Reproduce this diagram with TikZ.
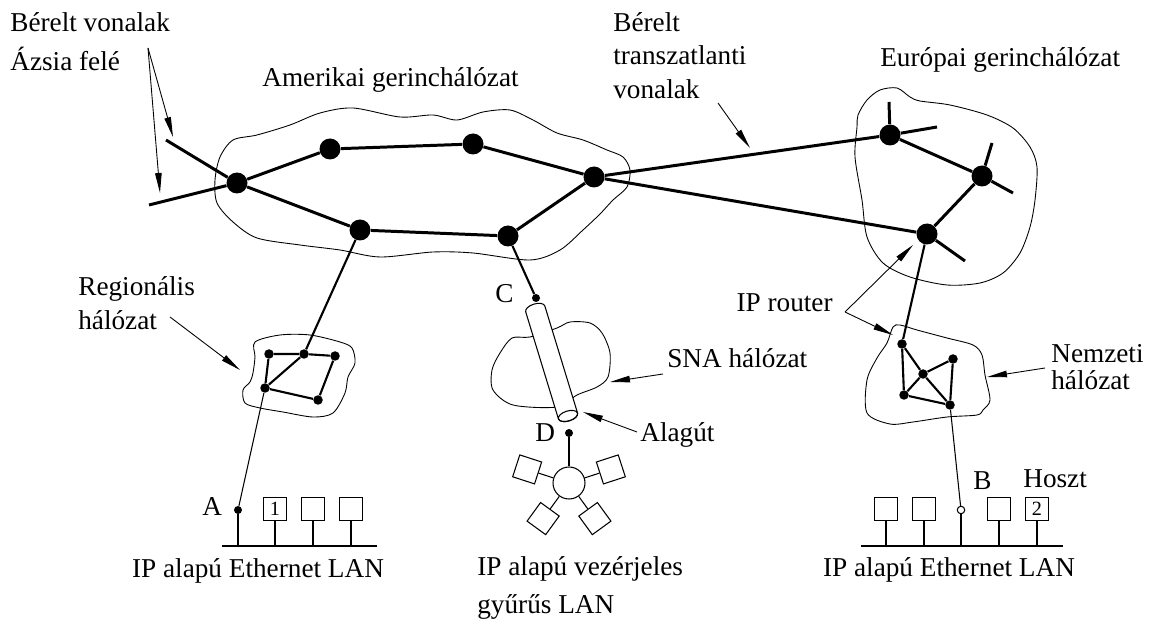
\documentclass[tikz,border=0pt]{standalone}
\usepackage{fontspec}
\setmainfont{Liberation Serif}
\usetikzlibrary{arrows.meta,calc}

\begin{document}
\begin{tikzpicture}[x=0.02cm,y=-0.02cm]
  \tikzset{
    txt/.style={font=\fontsize{15.5}{18}\selectfont,inner sep=0pt},
    bb/.style={circle,fill,inner sep=0pt,minimum size=.42cm},
    sm/.style={circle,fill,inner sep=0pt,minimum size=.19cm},
    pt/.style={circle,fill,inner sep=0pt,minimum size=.16cm},
    link/.style={line width=1.7pt},
    sub/.style={line width=1.2pt},
    thin/.style={line width=.6pt},
    area/.style={line width=.5pt},
    ptr/.style={line width=.5pt,-{Triangle[length=.4cm,width=.13cm]}},
    host/.style={draw,line width=.6pt,minimum size=.46cm,inner sep=0pt,font=\fontsize{11.5}{13}\selectfont}
  }
  \useasboundingbox (0,0) rectangle (1150,621);

  \draw[area] plot[smooth cycle] coordinates {(217,203) (215,180) (220,157) (233,140) (257,135)
    (290,125) (320,113) (353,108) (400,117) (433,115) (457,120) (483,112) (510,110) (533,120)
    (557,133) (583,140) (607,150) (623,157) (630,170) (627,187) (613,200) (600,214) (583,230)
    (560,250) (530,260) (473,253) (433,252) (380,257) (340,250) (300,245) (257,238) (233,222)};
  \draw[area] plot[smooth cycle] coordinates {(858,115) (867,100) (880,90) (897,88) (910,97)
    (920,101) (950,105) (987,115) (1013,128) (1030,147) (1037,167) (1035,200) (1030,227)
    (1020,253) (1003,273) (980,283) (947,285) (910,277) (883,263) (867,237) (862,200) (855,157) (857,127)};
  \draw[area] plot[smooth cycle] coordinates {(255,342) (280,335) (310,335) (340,342) (352,348)
    (355,363) (348,377) (345,393) (333,413) (313,417) (283,412) (260,408) (245,403) (243,390)
    (250,382) (253,373) (255,357)};
  \draw[area] plot[smooth cycle] coordinates {(893,327) (900,325) (917,330) (947,338) (973,345)
    (982,355) (985,375) (990,400) (983,410) (977,415) (947,417) (913,422) (890,424) (867,413)
    (867,380) (877,358) (887,343)};
  \draw[area] plot[smooth cycle] coordinates {(512,338) (530,337) (557,328) (570,322) (590,323)
    (602,333) (610,353) (608,377) (597,387) (577,395) (557,407) (513,405) (493,390) (492,370) (500,353)};

  \node[bb] (am1) at (237,183) {};
  \node[bb] (am2) at (330,149) {};
  \node[bb] (am3) at (473,144) {};
  \node[bb] (am4) at (594,177) {};
  \node[bb] (am5) at (360,230) {};
  \node[bb] (am6) at (508,236) {};
  \node[bb] (eu1) at (890,135) {};
  \node[bb] (eu2) at (982,176) {};
  \node[bb] (eu3) at (927,234) {};
  \coordinate (as1) at (166,140);
  \coordinate (as2) at (149,205);
  \coordinate (eu1a) at (889,102);
  \coordinate (eu1b) at (937,127);
  \coordinate (eu2a) at (992,143);
  \coordinate (eu2b) at (1013,193);
  \coordinate (eu3a) at (965,261);
  \draw[link] (am1) -- (am2) -- (am3) -- (am4);
  \draw[link] (am1) -- (am5) -- (am6) -- (am4);
  \draw[link] (as1) -- (am1) (as2) -- (am1);
  \draw[link] (am4) -- (eu1) (am4) -- (eu3);
  \draw[link] (eu1) -- (eu2) -- (eu3);
  \draw[link] (eu1) -- (eu1a) (eu1) -- (eu1b) (eu2) -- (eu2a) (eu2) -- (eu2b) (eu3) -- (eu3a);

  \node[sm] (rg1) at (269,354) {};
  \node[sm] (rg2) at (304,354) {};
  \node[sm] (rg3) at (335,356) {};
  \node[sm] (rg4) at (265,388) {};
  \node[sm] (rg5) at (318,400) {};
  \draw[sub] (rg1) -- (rg2) -- (rg3) -- (rg5) -- (rg4) -- (rg1) (rg4) -- (rg2);
  \draw[sub] (am5) -- (rg2);

  \node[sm] (nt1) at (902,344) {};
  \node[sm] (nt2) at (923,374) {};
  \node[sm] (nt3) at (953,359) {};
  \node[sm] (nt4) at (904,395) {};
  \node[sm] (nt5) at (950,405) {};
  \draw[sub] (nt1) -- (nt4) -- (nt5) -- (nt3) -- (nt2) -- (nt4) (nt1) -- (nt2) -- (nt5);
  \draw[sub] (eu3) -- (nt1);

  \begin{scope}[shift={(568,416)},rotate=107]
    \filldraw[thin,fill=white] (0cm,-.2cm) -- (2.24cm,-.2cm)
      arc[start angle=-90,end angle=90,x radius=.1cm,y radius=.2cm]
      -- (0cm,.2cm) arc[start angle=90,end angle=270,x radius=.1cm,y radius=.2cm] -- cycle;
    \draw[thin] (0cm,0cm) ellipse[x radius=.1cm,y radius=.2cm];
  \end{scope}
  \node[pt] (ptC) at (536,298) {};
  \node[pt] (ptD) at (569,433) {};
  \draw[sub] (am6) -- (ptC);

  \node[draw,thin,circle,minimum size=.64cm,inner sep=0pt] (ring) at (569,483) {};
  \draw[thin] (ptD) -- (ring);
  \foreach \a in {18,162,234,306} {
    \node[host,rotate=\a] (st\a) at ($(ring)+(\a:.88cm)$) {};
    \draw[thin] (ring) -- (st\a);
  }

  \coordinate (busA) at (300,546);
  \draw[thin] (222,546) -- (377,546);
  \node[pt] (ptA) at (238,510) {};
  \node[host] (hA1) at (275,509) {1};
  \node[host] (hA2) at (313,509) {};
  \node[host] (hA3) at (351,509) {};
  \draw[thin] (ptA) -- (ptA |- busA);
  \foreach \h in {hA1,hA2,hA3} \draw[thin] (\h.south) -- (\h.south |- busA);
  \draw[thin] (rg4) -- (ptA);

  \coordinate (busB) at (960,546);
  \draw[thin] (861,546) -- (1063,546);
  \node[draw,thin,circle,fill=white,inner sep=0pt,minimum size=.15cm] (ptB) at (961,510) {};
  \node[host] (hB1) at (886,509) {};
  \node[host] (hB2) at (924,509) {};
  \node[host] (hB3) at (999,509) {};
  \node[host] (hB4) at (1037,509) {2};
  \draw[thin] (ptB) -- (ptB |- busB);
  \foreach \h in {hB1,hB2,hB3,hB4} \draw[thin] (\h.south) -- (\h.south |- busB);
  \draw[thin] (nt5) -- (ptB);

  \node[txt,anchor=base west] (asia1) at (10,32) {Bérelt vonalak};
  \node[txt,anchor=base west] (asia2) at (10,71) {Ázsia felé};
  \node[txt,anchor=base west] (amlbl) at (262,87) {Amerikai gerinchálózat};
  \node[txt,anchor=base west] (ta1) at (613,32) {Bérelt};
  \node[txt,anchor=base west] (ta2) at (613,65) {transzatlanti};
  \node[txt,anchor=base west] (ta3) at (613,99) {vonalak};
  \node[txt,anchor=base west] (eulbl) at (880,67) {Európai gerinchálózat};
  \node[txt,anchor=base west] (rg1lbl) at (78,296) {Regionális};
  \node[txt,anchor=base west] (rg2lbl) at (78,330) {hálózat};
  \node[txt,anchor=base east] (iplbl) at (833,312) {IP router};
  \node[txt,anchor=base west] (nt1lbl) at (1051,363) {Nemzeti};
  \node[txt,anchor=base west] (nt2lbl) at (1051,390) {hálózat};
  \node[txt,anchor=base west] (snalbl) at (667,368) {SNA hálózat};
  \node[txt,anchor=base west] (tunlbl) at (640,442) {Alagút};
  \node[txt,anchor=base west] (Clbl) at (495,303) {C};
  \node[txt,anchor=base west] (Dlbl) at (535,442) {D};
  \node[txt,anchor=base west] (Albl) at (202,516) {A};
  \node[txt,anchor=base west] (Blbl) at (973,490) {B};
  \node[txt,anchor=base west] (hlbl) at (1023,488) {Hoszt};
  \node[txt,anchor=base] (lanA) at (258,578) {IP alapú Ethernet LAN};
  \node[txt,anchor=base] (lanB) at (949,577) {IP alapú Ethernet LAN};
  \node[txt,anchor=base west] (tr1) at (477,576) {IP alapú vezérjeles};
  \node[txt,anchor=base west] (tr2) at (477,613) {gyűrűs LAN};

  \coordinate (asT) at (148,48);
  \coordinate (asA) at (173,137);
  \coordinate (asB) at (160,193);
  \draw[ptr] (asT) -- (asA);
  \draw[ptr] (asT) -- (asB);
  \coordinate (taT) at (718,103);
  \coordinate (taA) at (750,148);
  \draw[ptr] (taT) -- (taA);
  \coordinate (rgT) at (170,317);
  \coordinate (rgA) at (240,370);
  \draw[ptr] (rgT) -- (rgA);
  \coordinate (snaT) at (663,374);
  \coordinate (snaA) at (610,382);
  \draw[ptr] (snaT) -- (snaA);
  \coordinate (tunT) at (637,432);
  \coordinate (tunA) at (583,412);
  \draw[ptr] (tunT) -- (tunA);
  \coordinate (ipT) at (845,312);
  \coordinate (ipA) at (913,245);
  \coordinate (ipB) at (893,335);
  \draw[ptr] (ipT) -- (ipA);
  \draw[ptr] (ipT) -- (ipB);
  \coordinate (ntT) at (1045,368);
  \coordinate (ntA) at (987,377);
  \draw[ptr] (ntT) -- (ntA);
\end{tikzpicture}
\end{document}
